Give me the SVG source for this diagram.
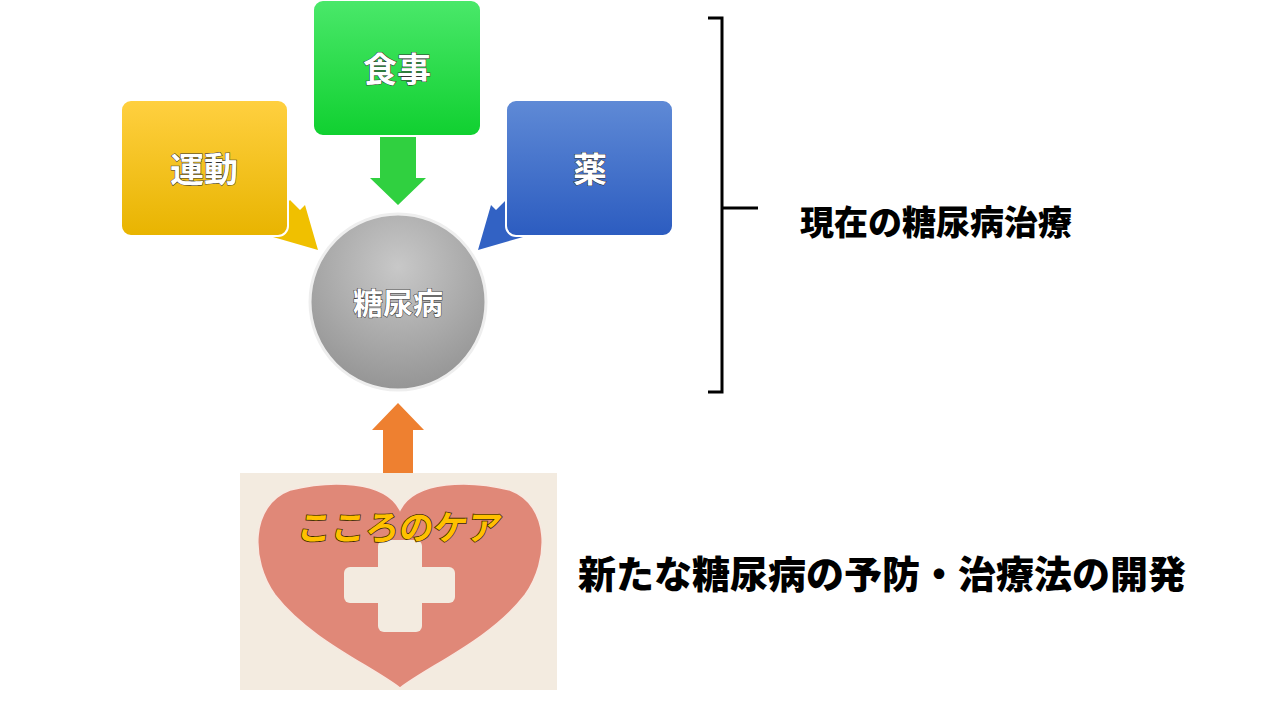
<svg xmlns="http://www.w3.org/2000/svg" width="1280" height="720" viewBox="0 0 1280 720">
<defs>
<linearGradient id="gy" x1="0" y1="0" x2="0" y2="1"><stop offset="0" stop-color="#ffd040"/><stop offset="1" stop-color="#e8b400"/></linearGradient>
<linearGradient id="gg" x1="0" y1="0" x2="0" y2="1"><stop offset="0" stop-color="#4ae86a"/><stop offset="1" stop-color="#10d030"/></linearGradient>
<linearGradient id="gb" x1="0" y1="0" x2="0" y2="1"><stop offset="0" stop-color="#5f8ad6"/><stop offset="1" stop-color="#2c5cc0"/></linearGradient>
<radialGradient id="gc" cx="0.5" cy="0.3" r="0.7"><stop offset="0" stop-color="#c8c8c8"/><stop offset="1" stop-color="#959595"/></radialGradient>
<style>
.box{stroke:#fff;stroke-width:2}
.lbl{font-family:"Noto Sans CJK JP",sans-serif;font-weight:bold;font-size:34px;fill:#fff;stroke:#333;stroke-width:1;text-anchor:middle;paint-order:stroke}
.big{font-family:"Noto Sans CJK JP",sans-serif;font-weight:900;fill:#000}
</style>
</defs>
<g id="connectors">
<polygon points="380,136 416,136 416,178 426,178 398,205 370,178 380,178" fill="#30d040"/>
<polygon points="270,220 290,200 300,210 305,205 318,250 273,237 280,230" fill="#f0c000"/>
<polygon points="526,220 506,200 496,210 491,205 478,250 523,237 516,230" fill="#3262c4"/>
<polygon points="383,473 413,473 413,430 424,430 398,403 372,430 383,430" fill="#ee8030"/>
</g>
<g id="node-undo"><rect class="box" x="121" y="100" width="167" height="136" rx="10" fill="url(#gy)"/><text class="lbl" x="204" y="182">運動</text></g>
<g id="node-shokuji"><rect class="box" x="313" y="0" width="168" height="136" rx="10" fill="url(#gg)"/><text class="lbl" x="397" y="82">食事</text></g>
<g id="node-kusuri"><rect class="box" x="506" y="100" width="167" height="136" rx="10" fill="url(#gb)"/><text class="lbl" x="590" y="182">薬</text></g>
<g id="node-tonyo"><circle cx="398" cy="302" r="88" fill="url(#gc)" stroke="#eee" stroke-width="3"/><text class="lbl" x="398" y="314" style="font-size:30px">糖尿病</text></g>
<g id="node-kokoro">
<rect x="240" y="473" width="317" height="217" fill="#f3ebe0"/>
<path d="M400,510 C385,480 330,480 290,490 C250,505 250,560 275,595 C310,640 370,665 400,688 C430,665 490,640 525,595 C550,560 550,505 510,490 C470,480 415,480 400,510 Z" fill="#e08878" stroke="#f8e8e0" stroke-width="1.5"/>
<rect x="378" y="540" width="44" height="92" rx="6" fill="#f3ebe0"/>
<rect x="344" y="567" width="111" height="36" rx="6" fill="#f3ebe0"/>
<text x="398" y="540" text-anchor="middle" font-family="Noto Sans CJK JP,sans-serif" font-weight="bold" font-size="34" fill="#ffc000" stroke="#3a2a00" stroke-width="1.5" paint-order="stroke" transform="skewX(-8) translate(76 0)">こころのケア</text>
</g>
<g id="bracket"><path d="M708,18 L722,18 L722,392 L708,392 M722,208 C728,208 735,208 758,208" fill="none" stroke="#000" stroke-width="3"/></g>
<text class="big" x="800" y="235" font-size="34">現在の糖尿病治療</text>
<text class="big" x="578" y="588" font-size="38">新たな糖尿病の予防・治療法の開発</text>
</svg>
